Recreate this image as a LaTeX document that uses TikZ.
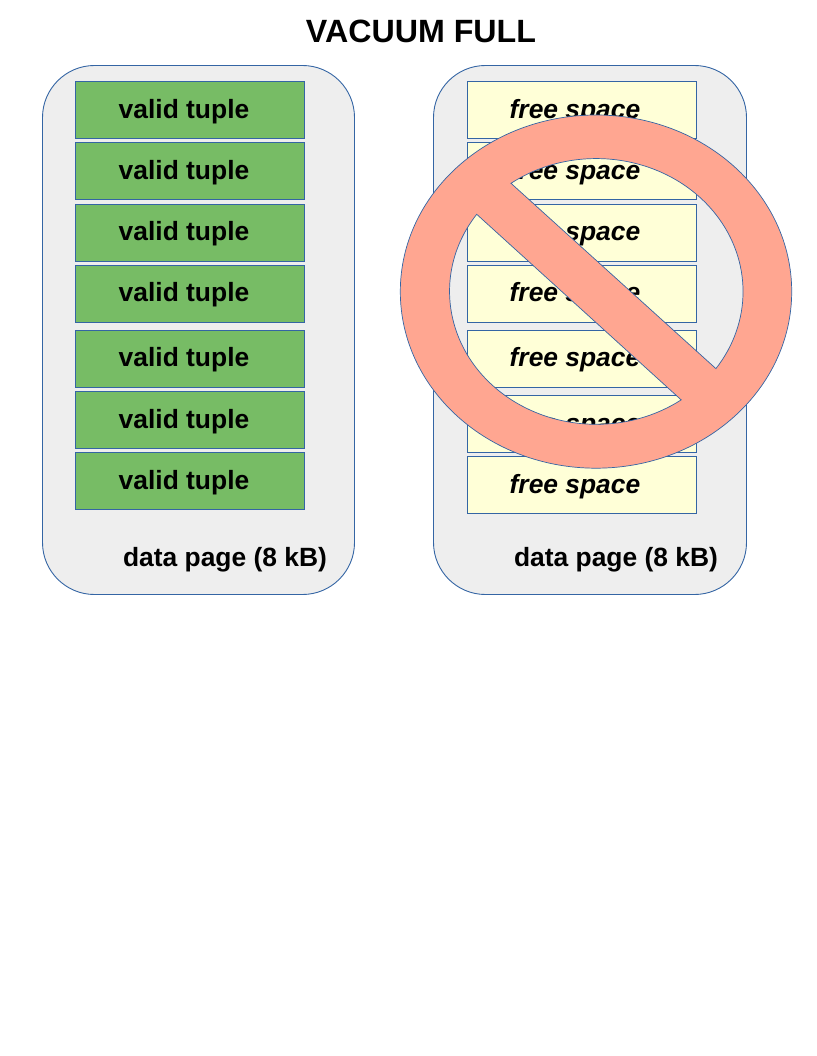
\documentclass[tikz,border=0pt]{standalone}
\usepackage{fontspec}
\setmainfont{Liberation Sans}
\definecolor{stroke}{HTML}{3465A4}
\definecolor{pagefill}{HTML}{EEEEEE}
\definecolor{validfill}{HTML}{77BC65}
\definecolor{freefill}{HTML}{FFFFD7}
\definecolor{forbid}{HTML}{FFA691}
\tikzset{
  x=1pt,y=1pt,
  pagebox/.style={draw=stroke,fill=pagefill,line width=0.9pt,rounded corners=52pt},
  tuplebox/.style={draw=stroke,line width=0.9pt},
  validbox/.style={tuplebox,fill=validfill},
  freebox/.style={tuplebox,fill=freefill},
  lbl/.style={anchor=base,inner sep=0pt,text=black,font=\fontsize{26.4}{30}\selectfont\bfseries},
  freelbl/.style={lbl,font=\fontsize{26.4}{30}\selectfont\bfseries\itshape},
  pagelbl/.style={lbl},
}
\begin{document}
\begin{tikzpicture}
\useasboundingbox (0,-1056) rectangle (816,0);
\node[anchor=base,inner sep=0pt,font=\fontsize{32.2}{38}\selectfont\bfseries] (title) at (421,-42.5) {VACUUM FULL};
% left page
\draw[pagebox] (42.5,-65.5) rectangle (354.5,-594.5);
\foreach \n/\t/\b/\l in {1/81.5/138.5/118.7,2/142.5/199.5/179.7,3/204.5/261.5/240.7,4/265.5/322.5/301.7,5/330.5/387.5/366.4,6/391.5/448.5/428,7/452.5/509.5/489}{
  \draw[validbox] (75.5,-\t) rectangle (304.5,-\b);
  \node[lbl] (v\n) at (184,-\l) {valid tuple};
}
\node[pagelbl] (pl) at (225,-566) {data page (8 kB)};
% right page
\draw[pagebox] (433.5,-65.5) rectangle (746.5,-594.5);
\foreach \n/\t/\b/\l in {1/81.5/138.5/118.7,2/142.5/199.5/179.7,3/204.5/261.5/240.7,4/265.5/322.5/301.7,5/330.5/387.5/366.4,6/395.5/452.5/432,7/456.5/513.5/493}{
  \draw[freebox] (467.5,-\t) rectangle (696.5,-\b);
  \node[freelbl] (f\n) at (575,-\l) {free space};
}
\node[pagelbl] (pr) at (616,-566) {data page (8 kB)};
% prohibition sign
\draw[draw=stroke,line width=0.7pt,fill=forbid,even odd rule]
  (596,-291.6) ellipse [x radius=195.7pt,y radius=176.6pt]
  (511,-183.3) arc [start angle=125.5,end angle=-35.4,x radius=146.8pt,y radius=133pt] -- cycle
  (476.7,-214.3) arc [start angle=144.6,end angle=305.3,x radius=146.8pt,y radius=133pt] -- cycle;
\end{tikzpicture}
\end{document}
